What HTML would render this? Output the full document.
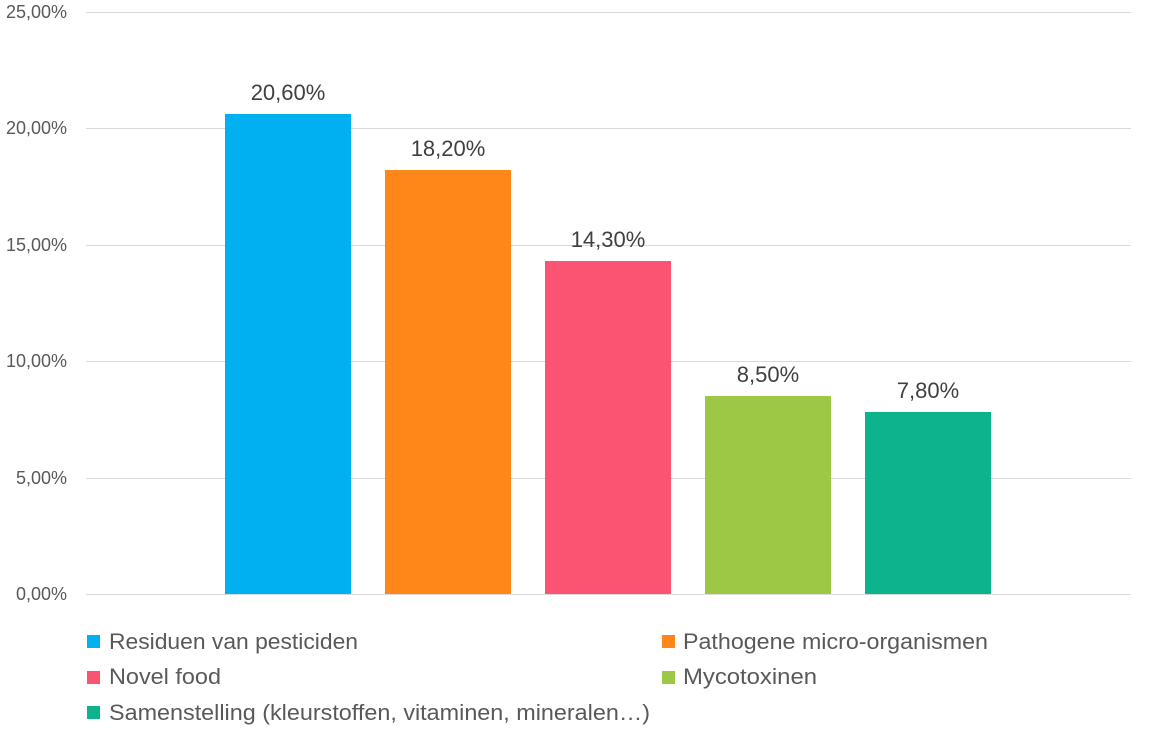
<!DOCTYPE html>
<html><head><meta charset="utf-8"><style>
body{margin:0;background:#fff;}
svg{display:block;font-family:"Liberation Sans",sans-serif;}
</style></head><body>
<svg width="1156" height="744" viewBox="0 0 1156 744">
<g stroke="#d9d9d9" stroke-width="1">
<line x1="86" x2="1131" y1="12.5" y2="12.5"/>
<line x1="86" x2="1131" y1="128.5" y2="128.5"/>
<line x1="86" x2="1131" y1="245.5" y2="245.5"/>
<line x1="86" x2="1131" y1="361.5" y2="361.5"/>
<line x1="86" x2="1131" y1="478.5" y2="478.5"/>
<line x1="86" x2="1131" y1="594.5" y2="594.5"/>
</g>
<g fill="#595959" font-size="18" text-anchor="end">
<text x="67" y="18">25,00%</text>
<text x="67" y="134">20,00%</text>
<text x="67" y="251">15,00%</text>
<text x="67" y="367">10,00%</text>
<text x="67" y="484">5,00%</text>
<text x="67" y="600">0,00%</text>
</g>
<rect x="225" y="114" width="126" height="480" fill="#00b0f0"/>
<rect x="385" y="170" width="126" height="424" fill="#ff8619"/>
<rect x="545" y="261" width="126" height="333" fill="#fb5473"/>
<rect x="705" y="396" width="126" height="198" fill="#9dc845"/>
<rect x="865" y="412" width="126" height="182" fill="#0db38d"/>
<g fill="#404040" font-size="22" text-anchor="middle">
<text x="288" y="100">20,60%</text>
<text x="448" y="156">18,20%</text>
<text x="608" y="247">14,30%</text>
<text x="768" y="382">8,50%</text>
<text x="928" y="398">7,80%</text>
</g>
<g font-size="22" fill="#595959">
<rect x="87" y="635" width="13" height="13" fill="#00b0f0"/><text x="109" y="649" textLength="249" lengthAdjust="spacingAndGlyphs">Residuen van pesticiden</text>
<rect x="662" y="635" width="13" height="13" fill="#ff8619"/><text x="683" y="649" textLength="305" lengthAdjust="spacingAndGlyphs">Pathogene micro-organismen</text>
<rect x="87" y="671" width="13" height="13" fill="#fb5473"/><text x="109" y="684" textLength="112" lengthAdjust="spacingAndGlyphs">Novel food</text>
<rect x="662" y="671" width="13" height="13" fill="#9dc845"/><text x="683" y="684" textLength="134" lengthAdjust="spacingAndGlyphs">Mycotoxinen</text>
<rect x="87" y="706" width="13" height="13" fill="#0db38d"/><text x="109" y="720" textLength="541" lengthAdjust="spacingAndGlyphs">Samenstelling (kleurstoffen, vitaminen, mineralen…)</text>
</g>
</svg>
</body></html>
